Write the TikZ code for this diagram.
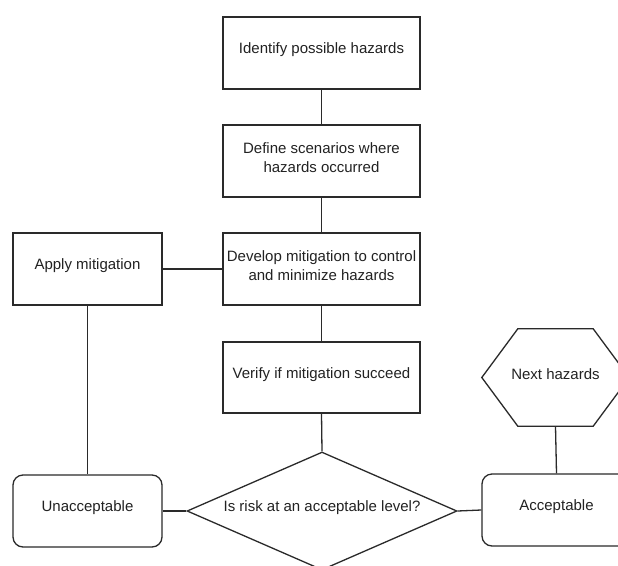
\documentclass[tikz,border=0pt]{standalone}
\usepackage{fontspec}
\setmainfont{Liberation Sans}
\usetikzlibrary{shapes.geometric}
\definecolor{linec}{HTML}{2A2A2A}
\definecolor{textc}{HTML}{222222}
\tikzset{
  every node/.style={font=\fontsize{15}{19}\selectfont, text=textc},
  boxshape/.style={draw=linec, line width=1.3pt, minimum width=197pt, minimum height=72pt, inner sep=0pt},
  sidebox/.style={boxshape, minimum width=149pt},
  roundbox/.style={sidebox, rounded corners=10pt},
  decision/.style={draw=linec, line width=1.3pt, diamond, aspect=2.29, minimum width=270pt, minimum height=118pt, inner sep=0pt},
  txt/.style={label={[yshift=3pt, align=center, text=textc, font=\fontsize{15}{19}\selectfont]center:#1}},
  conn/.style={draw=linec, line width=1.3pt}
}
\begin{document}
\begin{tikzpicture}[x=1pt,y=-1pt]
\useasboundingbox (0,0) rectangle (618,565);
\fill[white] (0,0) rectangle (618,565);
\clip (0,0) rectangle (618,565);
\node[boxshape, txt={Identify possible hazards}] (b1) at (321.5,53) {};
\node[boxshape, txt={Define scenarios where\\hazards occurred}] (b2) at (321.5,161) {};
\node[boxshape, txt={Develop mitigation to control\\and minimize hazards}] (b3) at (321.5,269) {};
\node[sidebox, txt={Apply mitigation}] (ap) at (87.5,269) {};
\node[boxshape, minimum height=71pt, txt={Verify if mitigation succeed}] (b4) at (321.5,377.5) {};
\node[decision, txt={Is risk at an acceptable level?}] (d) at (322,511) {};
\node[roundbox, txt={Unacceptable}] (un) at (87.5,511) {};
\node[roundbox, txt={Acceptable}] (ac) at (556.5,510) {};
\node[minimum width=147pt, minimum height=97pt, inner sep=0pt, txt={Next hazards}] (hx) at (555.5,377.5) {};
\draw[conn] (hx.west) -- ([xshift=36pt]hx.north west) -- ([xshift=-36pt]hx.north east) -- (hx.east) -- ([xshift=-36pt]hx.south east) -- ([xshift=36pt]hx.south west) -- cycle;
\draw[conn] (b1.south) -- (b2.north);
\draw[conn] (b2.south) -- (b3.north);
\draw[conn] (b3.west) -- (ap.east);
\draw[conn] (b3.south) -- (b4.north);
\draw[conn] (ap.south) -- (un.north);
\draw[conn] (b4.south) -- (d.north);
\draw[conn] (d.west) -- (un.east);
\draw[conn] (d.east) -- (ac.west);
\draw[conn] (hx.south) -- (ac.north);
\end{tikzpicture}
\end{document}
